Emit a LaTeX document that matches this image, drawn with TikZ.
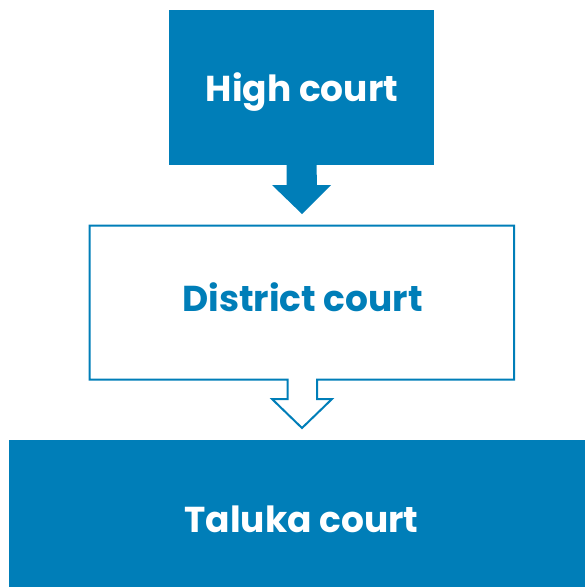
\documentclass[tikz,border=0pt]{standalone}
\usepackage{fontspec}
\setmainfont{Poppins}[BoldFont={* Bold}]
\usetikzlibrary{calc}
\definecolor{courtblue}{RGB}{0,126,184}
\begin{document}
\begin{tikzpicture}[x=1pt,y=-1pt,
  filledbox/.style={fill=courtblue,draw=none,inner sep=0pt,outer sep=0pt},
  courttext/.style={font=\bfseries\fontsize{36}{40}\selectfont,anchor=base,inner sep=0pt},
]
\useasboundingbox (0,0) rectangle (585,587);
% High court
\node[filledbox,minimum width=265pt,minimum height=155pt] (high) at (301.5,87.5) {};
\node[courttext,text=white] (hightxt) at (302,101) {High court};
% filled arrow
\fill[courtblue] ($(high.south)+(-15,0)$) -- ++(0,20) -- ++(-14.5,0) -- (302,214) -- (331,185) -- (317,185) -- ($(high.south)+(15,0)$) -- cycle;
% District court
\node[inner sep=0pt,outer sep=0pt,minimum width=424.5pt,minimum height=154pt] (district) at (301.75,302.5) {};
\draw[courtblue,line width=2pt,line join=miter]
  (district.north west) -- (district.north east) -- (district.south east)
  -- (317,379.5) -- (317,399) -- (332,399) -- (302,428) -- (272,399) -- (287.5,399) -- (287.5,379.5)
  -- (district.south west) -- cycle;
\node[courttext,text=courtblue] (disttxt) at (302.5,311.5) {District court};
% Taluka court
\node[filledbox,minimum width=580pt,minimum height=150pt,anchor=north west] (taluka) at (9,440) {};
\node[courttext,text=white] (taltxt) at (301.5,532.5) {Taluka court};
\end{tikzpicture}
\end{document}
